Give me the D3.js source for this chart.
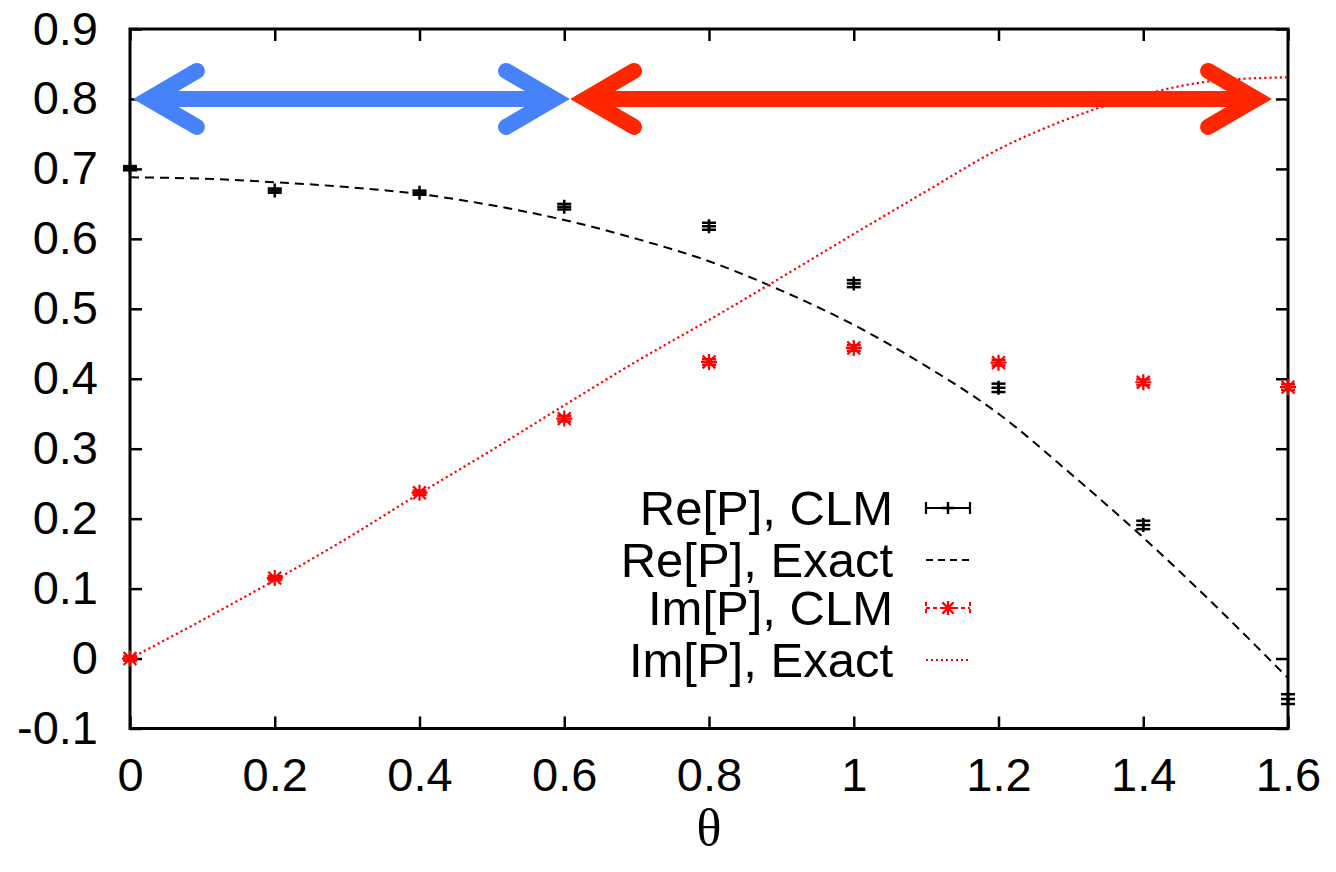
<!DOCTYPE html>
<html>
<head>
<meta charset="utf-8">
<script src="https://cdn.jsdelivr.net/npm/d3@7"></script>
<style>
  body { margin: 0; background: #fff; }
  svg { display: block; }
  .tick text { font-family: "Liberation Sans", Arial, sans-serif; font-size: 47px; fill: #000; }
  .legend-text { font-family: "Liberation Sans", Arial, sans-serif; font-size: 49px; fill: #000; }
</style>
</head>
<body>
<svg id="chart" width="1336" height="872"></svg>
<script>
// data
const thetaPoints = [0, 0.2, 0.4, 0.6, 0.8, 1.0, 1.2, 1.4, 1.6];
const reClm    = [0.701, 0.669, 0.666, 0.646, 0.618, 0.536, 0.387, 0.191, -0.058];
const reClmErr = [0.003, 0.003, 0.003, 0.004, 0.005, 0.005, 0.006, 0.006, 0.007];
const imClm    = [0.000, 0.115, 0.237, 0.343, 0.424, 0.444, 0.423, 0.395, 0.388];
const imClmErr = [0.003, 0.003, 0.003, 0.004, 0.004, 0.004, 0.004, 0.004, 0.004];

const thetaCurve = [0, 0.1, 0.2, 0.3, 0.4, 0.5, 0.6, 0.7, 0.8, 0.9, 1.0, 1.1, 1.2, 1.3, 1.4, 1.5, 1.6];
const reExact = [0.688, 0.686, 0.681, 0.674, 0.664, 0.648, 0.627, 0.600, 0.568, 0.526,
                 0.477, 0.418, 0.350, 0.264, 0.173, 0.075, -0.028];
const imExact = [0.000, 0.055, 0.112, 0.172, 0.236, 0.298, 0.362, 0.425, 0.484, 0.545,
                 0.607, 0.668, 0.728, 0.773, 0.806, 0.826, 0.831];

const xTicks = [0, 0.2, 0.4, 0.6, 0.8, 1.0, 1.2, 1.4, 1.6];
const yTicks = [-0.1, 0, 0.1, 0.2, 0.3, 0.4, 0.5, 0.6, 0.7, 0.8, 0.9];

// the two double arrows at the top (theta range, level)
const arrowSpans  = [[0.004, 0.608], [0.608, 1.578]];
const arrowLevel  = 0.8;
const arrowColors = ["#4682fa", "#ff2600"];

const legendLabels = ["Re[P], CLM", "Re[P], Exact", "Im[P], CLM", "Im[P], Exact"];

const plotLeft = 130, plotRight = 1288, plotTop = 29, plotBottom = 728.5;
const x = d3.scaleLinear().domain([0, 1.6]).range([plotLeft, plotRight]);
const y = d3.scaleLinear().domain([-0.1, 0.9]).range([plotBottom, plotTop]);

const svg = d3.select("#chart");
const RED = "#ff0000";
const fmt = d => Math.abs(d) < 1e-9 ? "0" : String(+d.toFixed(1));

// Axes (ticks point inward, mirrored on top/right)
// ----------------------------------------
svg.append("g")
    .attr("transform", `translate(0,${plotBottom})`)
    .call(d3.axisBottom(x).tickValues(xTicks).tickFormat(fmt)
          .tickSizeInner(-12).tickSizeOuter(0).tickPadding(29));
svg.append("g")
    .attr("transform", `translate(${plotLeft},0)`)
    .call(d3.axisLeft(y).tickValues(yTicks).tickFormat(fmt)
          .tickSizeInner(-12).tickSizeOuter(0).tickPadding(32));
svg.append("g")
    .attr("transform", `translate(0,${plotTop})`)
    .call(d3.axisTop(x).tickValues(xTicks).tickFormat("")
          .tickSizeInner(-12).tickSizeOuter(0));
svg.append("g")
    .attr("transform", `translate(${plotRight},0)`)
    .call(d3.axisRight(y).tickValues(yTicks).tickFormat("")
          .tickSizeInner(-12).tickSizeOuter(0));
svg.selectAll(".domain").remove();
svg.selectAll(".tick line").attr("stroke", "#000").attr("stroke-width", 2.5);

svg.append("rect")
    .attr("x", plotLeft).attr("y", plotTop)
    .attr("width", plotRight - plotLeft).attr("height", plotBottom - plotTop)
    .attr("fill", "none").attr("stroke", "#000").attr("stroke-width", 3);

svg.append("text")
    .attr("x", (plotLeft + plotRight) / 2).attr("y", 845)
    .attr("text-anchor", "middle")
    .style("font-family", "'Liberation Serif', 'Times New Roman', serif")
    .style("font-size", "52px")
    .text("θ");

// Curves
// ----------------------------------------
const line = d3.line().x(d => x(d[0])).y(d => y(d[1])).curve(d3.curveMonotoneX);

svg.append("path")
    .datum(thetaCurve.map((t, i) => [t, reExact[i]]))
    .attr("d", line)
    .attr("fill", "none").attr("stroke", "#000")
    .attr("stroke-width", 2).attr("stroke-dasharray", "9,6");

svg.append("path")
    .datum(thetaCurve.map((t, i) => [t, imExact[i]]))
    .attr("d", line)
    .attr("fill", "none").attr("stroke", RED)
    .attr("stroke-width", 2.2).attr("stroke-dasharray", "2.2,3");

// Points with error bars
// ----------------------------------------
const S = 7; // half size of markers and caps

function errorbar(g, cx, cy, lo, hi, color) {
    g.append("line").attr("x1", cx).attr("x2", cx).attr("y1", lo).attr("y2", hi)
        .attr("stroke", color).attr("stroke-width", 2.5);
    [lo, hi].forEach(yy => g.append("line")
        .attr("x1", cx - S).attr("x2", cx + S).attr("y1", yy).attr("y2", yy)
        .attr("stroke", color).attr("stroke-width", 2.5));
}
function plus(g, cx, cy, color, s) {
    g.append("path")
        .attr("d", `M${cx - s},${cy}H${cx + s}M${cx},${cy - s}V${cy + s}`)
        .attr("stroke", color).attr("stroke-width", 2.5);
}
function star(g, cx, cy, color, s) {
    const d = s * 0.8;
    g.append("path")
        .attr("d", `M${cx - s},${cy}H${cx + s}M${cx},${cy - s}V${cy + s}` +
                   `M${cx - d},${cy - d}L${cx + d},${cy + d}M${cx - d},${cy + d}L${cx + d},${cy - d}`)
        .attr("stroke", color).attr("stroke-width", 2.2);
}

const reG = svg.append("g");
thetaPoints.forEach((t, i) => {
    const cx = x(t), cy = y(reClm[i]);
    errorbar(reG, cx, cy, y(reClm[i] - reClmErr[i]), y(reClm[i] + reClmErr[i]), "#000");
    plus(reG, cx, cy, "#000", S);
});

const imG = svg.append("g");
thetaPoints.forEach((t, i) => {
    const cx = x(t), cy = y(imClm[i]);
    errorbar(imG, cx, cy, y(imClm[i] - imClmErr[i]), y(imClm[i] + imClmErr[i]), RED);
    star(imG, cx, cy, RED, S + 1);
});

// Double arrows
// ----------------------------------------
// miter offset chosen so the sharp tip lands on the arrow end
const AW = 16, wingDx = 64, wingDy = 28, miter = 16;
function arrowHead(g, tipX, ay, dir, color) {
    // dir = +1 head pointing left (tip at the left), -1 pointing right
    const vx = tipX + dir * miter;
    const wx = tipX + dir * wingDx;
    g.append("path")
        .attr("d", `M${wx},${ay - wingDy}L${vx},${ay}L${wx},${ay + wingDy}`)
        .attr("fill", "none").attr("stroke", color).attr("stroke-width", AW)
        .attr("stroke-linecap", "round").attr("stroke-linejoin", "miter")
        .attr("stroke-miterlimit", 10);
}
const arrowG = svg.append("g");
arrowSpans.forEach((span, i) => {
    const x0 = x(span[0]), x1 = x(span[1]), ay = y(arrowLevel);
    arrowG.append("line")
        .attr("x1", x0 + miter).attr("x2", x1 - miter).attr("y1", ay).attr("y2", ay)
        .attr("stroke", arrowColors[i]).attr("stroke-width", AW);
    arrowHead(arrowG, x0, ay, 1, arrowColors[i]);
    arrowHead(arrowG, x1, ay, -1, arrowColors[i]);
});

// Legend
// ----------------------------------------
const legX = 893, sx0 = 926, sx1 = 970, rowY = [508, 560, 608, 660];
const legG = svg.append("g");
legendLabels.forEach((lab, i) => {
    legG.append("text").attr("class", "legend-text")
        .attr("x", legX).attr("y", rowY[i]).attr("dy", "0.35em")
        .attr("text-anchor", "end").text(lab);
});
const mid = (sx0 + sx1) / 2;
// Re[P], CLM sample: horizontal error bar with +
legG.append("path")
    .attr("d", `M${sx0},${rowY[0]}H${sx1}M${sx0},${rowY[0] - 6}V${rowY[0] + 6}M${sx1},${rowY[0] - 6}V${rowY[0] + 6}`)
    .attr("stroke", "#000").attr("stroke-width", 2.2);
plus(legG, mid, rowY[0], "#000", 6);
// Re[P], Exact sample
legG.append("line").attr("x1", sx0).attr("x2", sx1).attr("y1", rowY[1]).attr("y2", rowY[1])
    .attr("stroke", "#000").attr("stroke-width", 2).attr("stroke-dasharray", "7,5");
// Im[P], CLM sample
legG.append("path")
    .attr("d", `M${sx0},${rowY[2]}H${sx1}M${sx0},${rowY[2] - 6}V${rowY[2] + 6}M${sx1},${rowY[2] - 6}V${rowY[2] + 6}`)
    .attr("stroke", RED).attr("stroke-width", 2).attr("stroke-dasharray", "4,3");
star(legG, mid, rowY[2], RED, 7);
// Im[P], Exact sample
legG.append("line").attr("x1", sx0).attr("x2", sx1).attr("y1", rowY[3]).attr("y2", rowY[3])
    .attr("stroke", RED).attr("stroke-width", 2).attr("stroke-dasharray", "2,3");
</script>
</body>
</html>
